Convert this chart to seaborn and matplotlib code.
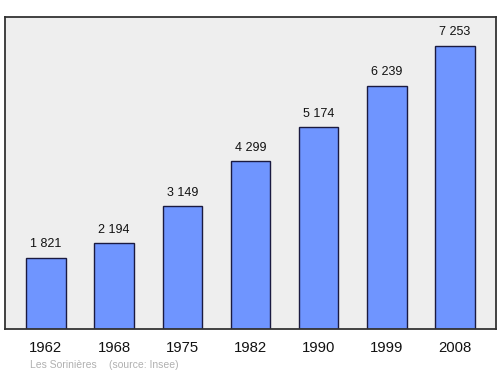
import matplotlib
matplotlib.use("Agg")
import matplotlib.pyplot as plt
import seaborn as sns
import pandas as pd

years = ["1962", "1968", "1975", "1982", "1990", "1999", "2008"]
population = [1821, 2194, 3149, 4299, 5174, 6239, 7253]
value_labels = ["1 821", "2 194", "3 149", "4 299", "5 174", "6 239", "7 253"]

sns.set_theme(style="white")
plt.rcParams['font.family'] = ['Liberation Sans', 'DejaVu Sans']

df = pd.DataFrame({"year": years, "pop": population})

fig = plt.figure(figsize=(5, 3.74), dpi=100)
ax = fig.add_axes([0.01, 1 - 329/374, 0.982, (329 - 17)/374])
ax.set_facecolor("#eeeeee")

sns.barplot(data=df, x="year", y="pop", ax=ax, color="#6f95ff", saturation=1,
            width=0.58, edgecolor="#1a1a40", linewidth=1.0)

for i, (v, lab) in enumerate(zip(population, value_labels)):
    ax.annotate(lab, (i, v), xytext=(0, 5.5), textcoords="offset points",
                ha="center", va="bottom", fontsize=9, color="#111111")

ax.set_xlim(-0.6, 6.6)
ax.set_ylim(0, 8000)
ax.set_yticks([])
ax.set_xlabel("")
ax.set_ylabel("")
ax.tick_params(axis="x", length=0, pad=9, labelsize=10.7, labelcolor="#111111")
for s in ax.spines.values():
    s.set_color("#333333")
    s.set_linewidth(1.3)

fig.text(30/500, 1 - 365/374, "Les Sorinières", fontsize=7.5, color="#b0b0b0", va="center")
fig.text(109/500, 1 - 365/374, "(source: Insee)", fontsize=7.5, color="#b0b0b0", va="center")

fig.savefig("out.png", dpi=100)
